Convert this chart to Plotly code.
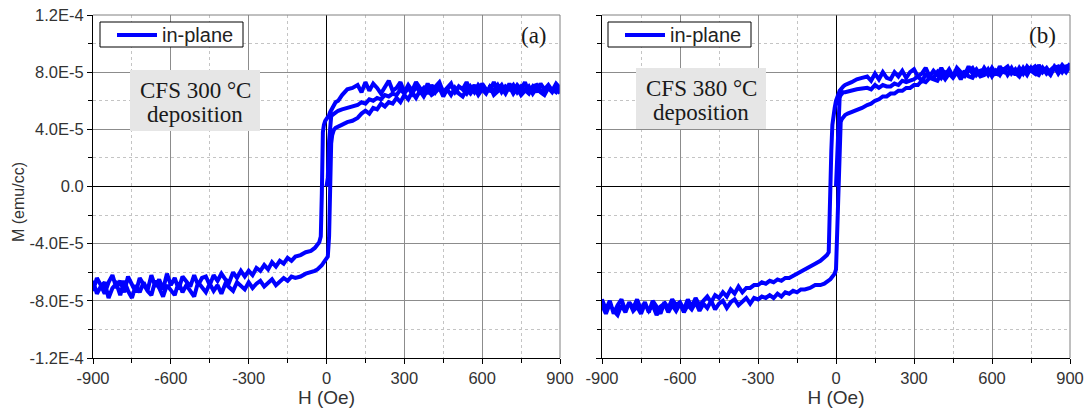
import plotly.graph_objects as go

# ---------------------------------------------------------------------------
# Field sweep (Oe), shared by every branch: 15 Oe steps away from zero,
# finer steps around the switching fields
# ---------------------------------------------------------------------------
H_NEG = [
    -900, -885, -870, -855, -840, -825, -810, -795, -780, -765,
    -750, -735, -720, -705, -690, -675, -660, -645, -630, -615,
    -600, -585, -570, -555, -540, -525, -510, -495, -480, -465,
    -450, -435, -420, -405, -390, -375, -360, -345, -330, -315,
    -300, -285, -270, -255, -240, -225, -210, -195, -180, -165,
    -150, -135, -120,
]
H_MID = [-100, -80, -60, -45, -35, -28, -22, -18, -14, -10, -5, 0,
         5, 10, 14, 18, 22, 28, 35, 45, 60, 80, 100]
H_POS = [
    120, 135, 150, 165, 180, 195, 210, 225, 240, 255,
    270, 285, 300, 315, 330, 345, 360, 375, 390, 405,
    420, 435, 450, 465, 480, 495, 510, 525, 540, 555,
    570, 585, 600, 615, 630, 645, 660, 675, 690, 705,
    720, 735, 750, 765, 780, 795, 810, 825, 840, 855,
    870, 885, 900,
]
H_OE = H_NEG + H_MID + H_POS

# Magnetisation in units of 1E-5 emu/cc, in the order of H_OE
# ---- (a) CFS deposited at 300 °C ----
A_DESC = [
    -7.3, -6.4, -6.9, -7.5, -6.7, -6.2, -7.1, -6.6, -7.4, -6.3,
    -6.9, -7.4, -6.4, -6.8, -7.3, -6.2, -7.0, -6.5, -7.2, -6.1,
    -6.9, -6.4, -7.2, -6.3, -6.7, -7.0, -6.2, -6.9, -6.4, -6.3,
    -6.9, -6.2, -6.6, -6.1, -6.5, -6.7, -6.0, -6.4, -5.9, -6.3,
    -5.9, -6.2, -5.7, -5.9, -5.5, -5.8, -5.3, -5.6, -5.2, -5.4,
    -5.0, -5.2, -4.9,
    -4.8, -4.6, -4.5, -4.3, -4.1, -3.9, -3.5, -0.5, 3.8, 4.3, 4.6, 4.8,
    4.9, 5.0, 5.2, 5.4, 5.5, 5.7, 5.9, 6.0, 6.4, 6.8, 6.9,
    7.1, 6.6, 7.3, 6.7, 7.2, 6.9, 6.5, 7.0, 7.4, 6.7,
    6.9, 7.3, 6.6, 7.1, 6.7, 7.3, 6.9, 6.5, 7.2, 6.7,
    7.0, 7.3, 6.6, 6.9, 7.2, 6.5, 7.0, 6.8, 7.3, 6.7,
    7.1, 6.5, 7.2, 6.8, 6.7, 7.3, 6.8, 7.1, 6.6, 7.2,
    6.7, 7.1, 6.8, 7.3, 6.6, 7.0, 6.6, 7.2, 6.8, 7.1,
    6.7, 7.2, 6.9,
]
A_ASC = [
    -6.6, -7.5, -7.0, -6.7, -7.8, -7.1, -6.8, -7.6, -6.6, -7.3,
    -7.8, -6.9, -7.4, -6.7, -7.3, -7.6, -6.6, -7.1, -7.7, -6.9,
    -7.3, -7.6, -6.7, -7.4, -6.9, -7.3, -7.7, -6.7, -7.1, -7.4,
    -6.8, -7.3, -6.9, -7.5, -6.8, -7.1, -7.3, -6.7, -7.0, -7.2,
    -6.7, -7.1, -6.8, -6.6, -7.0, -6.7, -6.5, -6.9, -6.6, -6.4,
    -6.6, -6.3, -6.4,
    -6.3, -6.1, -6.0, -5.9, -5.8, -5.7, -5.6, -5.5, -5.4, -5.3, -5.2, -5.1,
    -4.9, -3.5, 0.5, 3.0, 3.6, 3.95, 4.1, 4.2, 4.35, 4.5, 4.6,
    4.8, 5.1, 5.3, 5.1, 5.5, 5.4, 5.8, 5.6, 5.9, 5.8,
    6.2, 5.9, 6.4, 6.1, 6.6, 6.2, 6.7, 6.3, 6.8, 6.4,
    6.6, 6.9, 6.3, 6.8, 6.4, 6.9, 6.5, 6.3, 6.8, 6.5,
    6.9, 6.4, 6.8, 6.5, 7.0, 6.4, 6.7, 6.9, 6.5, 7.0,
    6.5, 6.9, 6.4, 6.7, 7.0, 6.5, 6.9, 6.6, 6.4, 6.9,
    6.6, 7.0, 6.5,
]
# initial magnetisation curve, recorded from H = 0 upwards
A_VIRGIN = [
    0.0, 0.6, 3.2, 4.6, 4.9, 5.0, 5.1, 5.2, 5.3, 5.4, 5.5, 5.6,
    5.7, 5.9, 5.8, 6.1, 6.0, 6.2, 6.1, 6.4, 6.3, 6.5,
    6.4, 6.8, 6.5, 6.9, 6.5, 7.0, 6.6, 6.9, 6.5, 7.1,
    6.6, 7.0, 6.5, 6.8, 7.1, 6.6, 7.0, 6.8, 6.5, 7.0,
    6.6, 7.1, 6.8, 6.5, 7.0, 6.7, 7.1, 6.6, 7.0, 6.8,
    7.1, 6.6, 7.0, 6.7, 6.5, 7.0, 7.1, 6.7, 6.6, 7.0,
    6.8, 6.6, 7.0,
]

# ---- (b) CFS deposited at 380 °C ----
B_DESC = [
    -7.9, -8.6, -8.0, -8.9, -8.3, -7.9, -8.7, -8.1, -8.5, -7.9,
    -8.6, -8.1, -8.8, -8.0, -8.4, -8.9, -8.1, -8.5, -7.9, -8.3,
    -8.1, -8.6, -7.9, -8.4, -7.8, -8.3, -8.0, -7.7, -8.1, -7.6,
    -7.8, -7.4, -7.7, -7.2, -7.5, -7.0, -7.4, -7.1, -7.1, -6.9,
    -6.9, -6.7, -6.8, -6.6, -6.7, -6.5, -6.6, -6.4, -6.4, -6.2,
    -6.1, -5.9, -5.8,
    -5.6, -5.4, -5.2, -5.0, -4.8, -4.6, -2.0, 2.5, 4.3, 5.0, 5.5, 6.0,
    6.3, 6.5, 6.7, 6.8, 6.9, 7.0, 7.1, 7.2, 7.3, 7.5, 7.6,
    7.7, 7.4, 7.9, 7.5, 8.0, 7.6, 7.5, 8.0, 7.7, 8.1,
    7.6, 8.0, 8.2, 7.7, 7.9, 8.3, 7.7, 8.1, 7.8, 8.3,
    7.8, 8.2, 7.7, 8.3, 8.0, 7.8, 8.4, 7.9, 8.2, 7.8,
    8.3, 7.9, 8.2, 7.8, 8.4, 8.0, 7.9, 8.3, 7.8, 8.3,
    7.9, 8.4, 8.1, 7.9, 8.5, 8.0, 8.3, 7.9, 8.4, 8.1,
    8.5, 8.2, 8.6,
]
B_ASC = [
    -8.3, -8.9, -8.2, -8.7, -9.0, -8.3, -8.8, -8.1, -8.7, -8.4,
    -8.9, -8.2, -8.7, -8.3, -9.0, -8.4, -8.2, -8.8, -8.3, -8.7,
    -8.2, -8.8, -8.3, -8.6, -8.1, -8.7, -8.2, -8.5, -8.0, -8.6,
    -8.2, -8.0, -8.5, -8.1, -7.9, -8.3, -8.0, -7.8, -8.2, -7.8,
    -7.9, -7.7, -7.8, -7.6, -7.8, -7.5, -7.7, -7.4, -7.5, -7.3,
    -7.4, -7.2, -7.2,
    -7.1, -6.9, -6.9, -6.8, -6.7, -6.6, -6.5, -6.4, -6.3, -6.2, -6.1, -5.8,
    -3.0, 1.0, 4.0, 4.5, 4.7, 4.9, 5.0, 5.1, 5.2, 5.35, 5.5,
    5.7, 5.8, 6.0, 6.1, 6.3, 6.3, 6.5, 6.5, 6.7, 6.7,
    6.9, 6.9, 7.1, 7.1, 7.4, 7.3, 7.6, 7.5, 7.4, 7.9,
    7.5, 7.9, 7.6, 8.0, 7.5, 8.1, 7.7, 7.6, 8.1, 7.7,
    7.8, 8.2, 7.7, 8.1, 7.8, 8.3, 7.8, 8.2, 7.9, 7.7,
    8.2, 7.8, 8.3, 7.9, 7.8, 8.3, 7.9, 8.2, 8.4, 7.9,
    8.3, 8.0, 8.4,
]
B_VIRGIN = [
    0.0, 2.0, 5.5, 6.2, 6.4, 6.5, 6.6, 6.6, 6.65, 6.7, 6.8, 6.85,
    6.9, 6.8, 7.1, 6.9, 7.1, 7.0, 7.0, 7.2, 7.1, 7.4,
    7.3, 7.4, 7.5, 7.7, 7.4, 7.8, 7.7, 7.6, 8.0, 7.6,
    8.0, 7.9, 7.7, 8.2, 7.8, 7.7, 8.1, 8.3, 7.8, 8.1,
    8.2, 7.8, 8.3, 7.9, 7.8, 8.2, 8.4, 7.9, 8.2, 7.8,
    8.3, 7.9, 8.2, 8.4, 7.9, 8.3, 8.1, 7.8, 8.3, 8.4,
    8.0, 8.4, 8.5,
]

X_TICKS = [-900, -600, -300, 0, 300, 600, 900]
X_TICKTEXT = ["-900", "-600", "-300", "0", "300", "600", "900"]
X_MINOR = [-750, -450, -150, 150, 450, 750]
Y_TICKS = [-1.2e-4, -8e-5, -4e-5, 0.0, 4e-5, 8e-5, 1.2e-4]
Y_TICKTEXT = ["-1.2E-4", "-8.0E-5", "-4.0E-5", "0.0", "4.0E-5", "8.0E-5", "1.2E-4"]
Y_MINOR = [-1e-4, -6e-5, -2e-5, 2e-5, 6e-5, 1e-4]
UNIT = 1e-5  # stored magnetisation unit (emu/cc)

SERIES_NAME = "in-plane"
PANEL_LABELS = ["(a)", "(b)"]
SAMPLE_TEXT = [("CFS 300 °C", "deposition"), ("CFS 380 °C", "deposition")]

W, HGT = 1086, 412
BLUE = "#0000ff"


def px(x):
    return x / W


def py(y):
    return 1 - y / HGT


def loop(virgin, desc, asc):
    """Initial curve, then the descending and ascending branches."""
    h0 = H_OE.index(0)
    h = H_OE[h0:] + H_OE[::-1] + H_OE
    m = virgin + desc[::-1] + asc
    return h, [v * UNIT for v in m]


fig = go.Figure()

ha, ma = loop(A_VIRGIN, A_DESC, A_ASC)
hb, mb = loop(B_VIRGIN, B_DESC, B_ASC)

line_style = dict(color=BLUE, width=4)
fig.add_trace(go.Scatter(x=ha, y=ma, mode="lines", line=line_style, name=SERIES_NAME,
                         xaxis="x", yaxis="y", showlegend=False))
fig.add_trace(go.Scatter(x=hb, y=mb, mode="lines", line=line_style, name=SERIES_NAME,
                         xaxis="x2", yaxis="y2", showlegend=False))

SANS = "Liberation Sans, Arial, sans-serif"
SERIF = "Liberation Serif, Times New Roman, serif"
tick_font = dict(family=SANS, size=16.5, color="#333333")
major_grid = "#8c8c8c"
minor_grid = "#c4c4c4"


def xaxis_cfg(domain, anchor):
    return dict(
        domain=domain, anchor=anchor, range=[-900, 900], automargin=False,
        tickmode="array", tickvals=X_TICKS, ticktext=X_TICKTEXT,
        showgrid=True, gridcolor=major_grid, gridwidth=1,
        zeroline=True, zerolinecolor="black", zerolinewidth=1,
        showline=True, linecolor="black", linewidth=1,
        ticks="outside", ticklen=5, tickcolor="black", tickfont=tick_font,
        minor=dict(tickmode="array", tickvals=X_MINOR, showgrid=True, gridcolor=minor_grid,
                   griddash="dot", ticks="outside", ticklen=4, tickcolor="black"),
        title=dict(text="H (Oe)", font=dict(family=SANS, size=19, color="#333333"),
                   standoff=2),
        fixedrange=True,
    )


def yaxis_cfg(domain, anchor, labels):
    return dict(
        domain=domain, anchor=anchor, range=[-1.2e-4, 1.2e-4], automargin=False,
        tickmode="array", tickvals=Y_TICKS, ticktext=Y_TICKTEXT,
        showticklabels=labels,
        showgrid=True, gridcolor=major_grid, gridwidth=1,
        zeroline=True, zerolinecolor="black", zerolinewidth=1,
        showline=True, linecolor="black", linewidth=1,
        ticks="outside", ticklen=5, tickcolor="black", tickfont=tick_font,
        minor=dict(tickmode="array", tickvals=Y_MINOR, showgrid=True, gridcolor=minor_grid,
                   griddash="dot", ticks="outside", ticklen=4, tickcolor="black"),
        fixedrange=True,
    )


ydom = [py(358), py(15)]
xdom_a = [px(93), px(560)]
xdom_b = [px(602), px(1070)]

shapes = []
annotations = []
for xr, yr in [("x", "y"), ("x2", "y2")]:
    # grey top and right frame
    shapes.append(dict(type="line", xref=f"{xr} domain", yref=f"{yr} domain",
                       x0=0, x1=1, y0=1, y1=1, line=dict(color="#808080", width=1)))
    shapes.append(dict(type="line", xref=f"{xr} domain", yref=f"{yr} domain",
                       x0=1, x1=1, y0=0, y1=1, line=dict(color="#808080", width=1)))

# legend boxes (one per panel)
for lx in [100, 608]:
    shapes.append(dict(type="rect", xref="paper", yref="paper",
                       x0=px(lx), x1=px(lx + 143), y0=py(47), y1=py(22),
                       fillcolor="white", line=dict(color="black", width=1), layer="above"))
    shapes.append(dict(type="line", xref="paper", yref="paper",
                       x0=px(lx + 17), x1=px(lx + 57), y0=py(35), y1=py(35),
                       line=dict(color=BLUE, width=4), layer="above"))
    annotations.append(dict(text=SERIES_NAME, x=px(lx + 60), y=py(35), xref="paper",
                            yref="paper", showarrow=False, xanchor="left", yanchor="middle",
                            font=dict(family=SANS, size=20, color="#222222")))

# sample description boxes
boxes = [(130, 70, 260, 131), (636, 68, 766, 129)]
serif = dict(family=SERIF, size=23, color="#1a1a1a")
for (x0, y0, x1, y1), (l1, l2) in zip(boxes, SAMPLE_TEXT):
    shapes.append(dict(type="rect", xref="paper", yref="paper",
                       x0=px(x0), x1=px(x1), y0=py(y1), y1=py(y0),
                       fillcolor="#e6e6e6", line=dict(width=0), layer="above"))
    cx = px((x0 + x1) / 2)
    annotations.append(dict(text=l1, x=cx, y=py(y0 + 20), xref="paper", yref="paper",
                            showarrow=False, font=serif, xanchor="center", yanchor="middle"))
    annotations.append(dict(text=l2, x=cx, y=py(y0 + 44), xref="paper", yref="paper",
                            showarrow=False, font=serif, xanchor="center", yanchor="middle"))

for label, xc in zip(PANEL_LABELS, [534, 1042]):
    annotations.append(dict(text=label, x=px(xc), y=py(36), xref="paper", yref="paper",
                            showarrow=False, xanchor="center", yanchor="middle",
                            font=dict(family=SERIF, size=23, color="#1a1a1a")))

annotations.append(dict(text="M (emu/cc)", x=px(18), y=py(202), xref="paper", yref="paper",
                        showarrow=False, textangle=-90, xanchor="center", yanchor="middle",
                        font=dict(family=SANS, size=16, color="#333333")))

fig.update_layout(
    width=W, height=HGT, autosize=False,
    margin=dict(l=0, r=0, t=0, b=0),
    paper_bgcolor="white", plot_bgcolor="white",
    xaxis=xaxis_cfg(xdom_a, "y"),
    yaxis=yaxis_cfg(ydom, "x", True),
    xaxis2=xaxis_cfg(xdom_b, "y2"),
    yaxis2=yaxis_cfg(ydom, "x2", False),
    shapes=shapes,
    annotations=annotations,
    showlegend=False,
)

fig.write_html("out.html")
